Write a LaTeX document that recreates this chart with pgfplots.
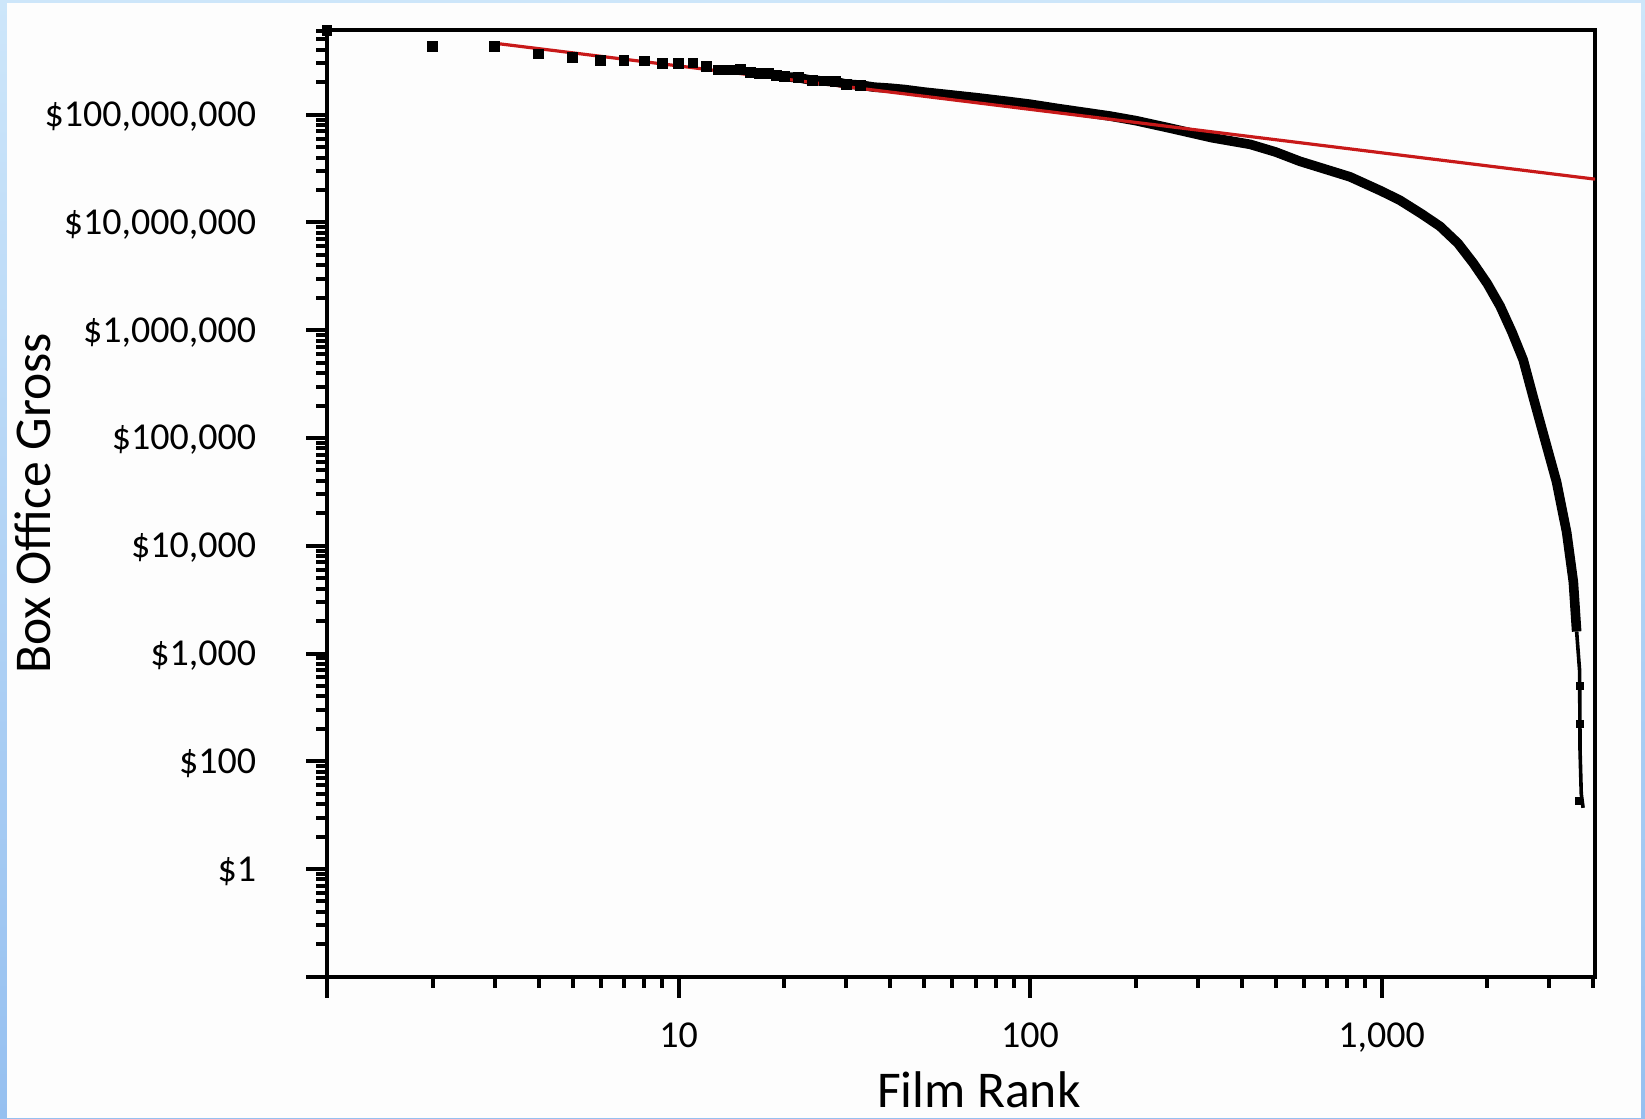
\documentclass[border=0pt]{standalone}
\usepackage{fontspec}
\setmainfont{Carlito}
\usepackage{pgfplots}
\pgfplotsset{compat=1.18}
\definecolor{fitred}{RGB}{200,25,25}
\definecolor{edgetop}{RGB}{205,230,250}
\definecolor{edgebot}{RGB}{150,192,240}
\definecolor{paper}{RGB}{253,253,253}

\begin{document}
\begin{tikzpicture}
\path[use as bounding box] (0,0) rectangle (411.25pt,279.5pt);
\shade[top color=edgetop, bottom color=edgebot] (0,0) rectangle (411.25pt,279.5pt);
\fill[paper] (1.75pt,0) rectangle (410.25pt,278.75pt);
\begin{axis}[
  at={(81.75pt,35.3pt)}, anchor=south west,
  scale only axis, width=317pt, height=236.7pt,
  xmode=log, ymode=log,
  xmin=1, xmax=4050, ymin=1, ymax=6.1e8,
  axis line style={line width=1pt},
  tick style={line width=1pt, black},
  tick align=outside, tick pos=left,
  major tick length=5.2pt, minor tick length=2.7pt,
  xtick={1,10,100,1000},
  xticklabels={{},{10},{100},{1,000}},
  minor xtick={2,3,4,5,6,7,8,9,20,30,40,50,60,70,80,90,200,300,400,500,600,700,800,900,2000,3000,4000},
  ytick={1,10,100,1000,10000,100000,1000000,10000000,100000000},
  yticklabels={{},{\$1},{\$100},{\$1,000},{\$10,000},{\$100,000},{\$1,000,000},{\$10,000,000},{\$100,000,000}},
  minor ytick={2,3,4,5,6,7,8,9,20,30,40,50,60,70,80,90,200,300,400,500,600,700,800,900,
    2e3,3e3,4e3,5e3,6e3,7e3,8e3,9e3,2e4,3e4,4e4,5e4,6e4,7e4,8e4,9e4,
    2e5,3e5,4e5,5e5,6e5,7e5,8e5,9e5,2e6,3e6,4e6,5e6,6e6,7e6,8e6,9e6,
    2e7,3e7,4e7,5e7,6e7,7e7,8e7,9e7,2e8,3e8,4e8,5e8,6e8},
  ticklabel style={font=\fontsize{9.5}{11}\selectfont},
  xticklabel style={yshift=-2.75pt},
  yticklabel style={xshift=-9pt, yshift=-0.5pt},
  label style={font=\fontsize{12.9}{15}\selectfont},
  xlabel={Film Rank},
  ylabel={Box Office Gross},
  xlabel style={at={(axis description cs:0.514,-0.119)}, anchor=center},
  ylabel style={at={(axis description cs:-0.2319,0.5)}, anchor=center},
]
% films ranked 1-20, drawn one by one
\addplot[only marks, mark=square*, mark size=1.15pt, black] coordinates {
  (1,6.0e8) (2,4.3e8) (3,4.3e8) (4,3.65e8) (5,3.4e8) (6,3.2e8) (7,3.2e8)
  (8,3.15e8) (9,3.0e8) (10,3.0e8) (11,3.02e8) (12,2.8e8) (13,2.6e8)
  (14,2.6e8) (15,2.62e8) (16,2.45e8) (17,2.42e8) (18,2.42e8) (19,2.3e8) (20,2.25e8)
};
% dense middle of the distribution
\addplot[black, line width=2.4pt] coordinates {
  (20,2.25e8) (22,2.2e8) (24,2.08e8) (26,2.05e8) (28,2.02e8) (30,1.92e8)
  (33,1.88e8) (36,1.8e8) (40,1.76e8) (44,1.71e8) (50,1.62e8) (60,1.52e8)
  (70,1.44e8) (86,1.33e8) (100,1.25e8) (120,1.14e8) (140,1.06e8) (169,9.7e7)
  (200,8.8e7) (250,7.5e7) (330,6.1e7) (423,5.3e7) (500,4.5e7) (586,3.69e7)
  (813,2.65e7) (1000,1.95e7) (1130,1.6e7) (1300,1.2e7) (1467,9.2e6)
  (1650,6.4e6) (1823,4.2e6) (2000,2.7e6) (2175,1.67e6) (2350,9.6e5)
  (2530,5.3e5) (2700,2.4e5) (2879,1.12e5) (3148,3.9e4) (3363,1.33e4)
  (3514,4.6e3) (3590,1600)
};
\addplot[only marks, mark=square*, mark size=1.15pt, black] coordinates {
  (22,2.2e8) (24,2.08e8) (26,2.05e8) (28,2.02e8) (30,1.92e8) (33,1.88e8)
};
% sparse tail
\addplot[black, line width=0.9pt] coordinates {
  (3590,1600) (3660,700) (3665,360) (3668,220) (3670,130) (3700,50) (3745,37)
};
\addplot[only marks, mark=square*, mark size=0.8pt, black] coordinates {
  (3662,500) (3668,220) (3640,43)
};
% power-law fit
\addplot[fitred, line width=0.8pt] coordinates {(3,4.6e8) (4050,2.52e7)};
\end{axis}
\end{tikzpicture}
\end{document}
